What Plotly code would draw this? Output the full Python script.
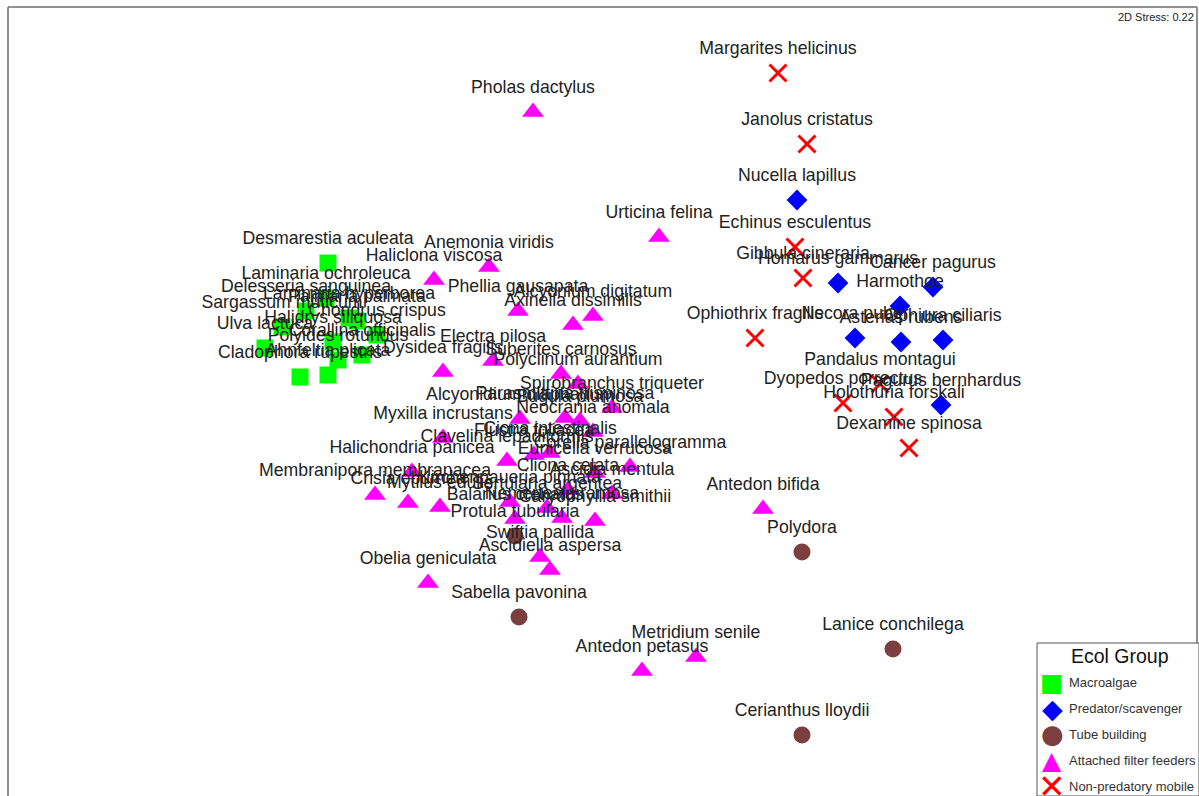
import plotly.graph_objects as go

# ---- MDS coordinates ----
algae_names = ["Desmarestia aculeata", "Laminaria ochroleuca", "Delesseria sanguinea",
               "Laminaria hyperborea", "Palmaria palmata", "Sargassum muticum",
               "Chondrus crispus", "Ulva lactuca", "Halidrys siliquosa",
               "Corallina officinalis", "Polyides rotundus", "Cladophora rupestris",
               "Ahnfeltia plicata"]
algae_x = [-2.72, -2.74, -2.94, -2.51, -2.43, -3.18, -2.23, -3.35, -2.67, -2.38, -2.62, -3.00, -2.72]
algae_y = [1.37, 1.02, 0.89, 0.82, 0.79, 0.73, 0.65, 0.52, 0.58, 0.45, 0.40, 0.23, 0.25]

pred_names = ["Nucella lapillus", "Homarus gammarus", "Cancer pagurus", "Harmothoe",
              "Necora puber", "Asterias rubens", "Ophiura ciliaris", "Pagurus bernhardus"]
pred_x = [1.97, 2.38, 3.33, 3.00, 2.55, 3.01, 3.43, 3.41]
pred_y = [2.00, 1.17, 1.13, 0.94, 0.62, 0.58, 0.60, -0.05]

tube_names = ["Polydora", "Lanice conchilega", "Cerianthus lloydii", "Sabella pavonina",
              "Protula tubularia"]
tube_x = [2.02, 2.93, 2.02, -0.81, -0.85]
tube_y = [-1.52, -2.49, -3.35, -2.17, -1.36]

filt_names = ["Pholas dactylus", "Urticina felina", "Anemonia viridis", "Haliclona viscosa",
              "Phellia gausapata", "Alcyonium digitatum", "Axinella dissimilis", "Electra pilosa",
              "Dysidea fragilis", "Suberites carnosus", "Polyclinum aurantium",
              "Spirobranchus triqueter", "Alcyonidium diaphanum", "Parasmittina trispinosa",
              "Bugula plumosa", "Neocrania anomala", "Myxilla incrustans",
              "Clavelina lepadiformis", "Flustra foliacea", "Ciona intestinalis",
              "Corella parallelogramma", "Eunicella verrucosa", "Cliona celata",
              "Ascidia mentula", "Halichondria panicea", "Membranipora membranacea",
              "Crisia eburnea", "Mytilus edulis", "Kirchenpaueria pinnata",
              "Sertularia argentea", "Balanus crenatus", "Nemertesia ramosa",
              "Caryophyllia smithii", "Swiftia pallida", "Ascidiella aspersa",
              "Obelia geniculata", "Antedon bifida", "Metridium senile", "Antedon petasus"]
filt_x = [-0.67, 0.59, -1.11, -1.66, -0.82, -0.07, -0.27, -1.07, -1.57, -0.39, -0.22,
          0.12, -0.80, -0.35, -0.20, -0.07, -1.57, -0.93, -0.66, -0.50, 0.30, -0.05,
          -0.32, 0.12, -1.88, -2.25, -1.92, -1.60, -0.90, -0.53, -0.85, -0.38, -0.05,
          -0.60, -0.50, -1.72, 1.63, 0.96, 0.42]
filt_y = [2.88, 1.63, 1.33, 1.20, 0.89, 0.84, 0.75, 0.39, 0.28, 0.26, 0.16, -0.08, -0.19,
          -0.18, -0.21, -0.32, -0.38, -0.61, -0.55, -0.53, -0.67, -0.73, -0.90, -0.94,
          -0.72, -0.95, -1.03, -1.07, -1.02, -1.08, -1.19, -1.18, -1.21, -1.57, -1.70,
          -1.83, -1.09, -2.57, -2.71]

mob_names = ["Margarites helicinus", "Janolus cristatus", "Echinus esculentus",
             "Gibbula cineraria", "Ophiothrix fragilis", "Pandalus montagui",
             "Dyopedos porrectus", "Holothuria forskali", "Dexamine spinosa"]
mob_x = [1.78, 2.07, 1.95, 2.03, 1.55, 2.80, 2.43, 2.94, 3.09]
mob_y = [3.27, 2.56, 1.53, 1.22, 0.62, 0.16, -0.03, -0.17, -0.48]

group_names = ["Macroalgae", "Predator/scavenger", "Tube building",
               "Attached filter feeders", "Non-predatory mobile"]
group_colors = ["#00ff00", "#0000ff", "#7b3f3f", "#ff00ff", "#ff0000"]
legend_glyphs = ["■", "◆", "●", "▲", "✕"]

markers = [
    dict(symbol="square", size=17),
    dict(symbol="diamond", size=16),
    dict(symbol="circle", size=17),
    dict(symbol="triangle-up", size=19),
    dict(symbol="x-thin", size=17, line=dict(color="#ff0000", width=3)),
]
series = [
    (algae_names, algae_x, algae_y),
    (pred_names, pred_x, pred_y),
    (tube_names, tube_x, tube_y),
    (filt_names, filt_x, filt_y),
    (mob_names, mob_x, mob_y),
]

FONT = "Liberation Sans, Arial, sans-serif"
fig = go.Figure()

for gname, color, mk, (names, xs, ys) in zip(group_names, group_colors, markers, series):
    fig.add_trace(go.Scatter(x=xs, y=ys, mode="markers", name=gname,
                             marker=dict(color=color, **mk), hoverinfo="text",
                             hovertext=names, showlegend=False))

# labels drawn above every point
LABEL_OFF = 0.23
for names, xs, ys in series:
    fig.add_trace(go.Scatter(x=xs, y=[v + LABEL_OFF for v in ys], mode="text",
                             text=names, textposition="middle center",
                             textfont=dict(family=FONT, size=17.7, color="#222222"),
                             showlegend=False, hoverinfo="skip"))

W, H = 1199, 796

# hand-built legend (kept inside the page)
annotations = [
    dict(text="2D Stress: 0.22", xref="paper", yref="paper", x=1196 / W, y=1 - 17 / H,
         xanchor="right", yanchor="middle", showarrow=False,
         font=dict(family=FONT, size=11, color="#222222")),
    dict(text="Ecol Group", xref="paper", yref="paper", x=1120 / W, y=1 - 656 / H,
         xanchor="center", yanchor="middle", showarrow=False,
         font=dict(family=FONT, size=19.5, color="#111111")),
]
glyph_sizes = [25, 27, 26, 25, 33]
for i, (gname, color, glyph) in enumerate(zip(group_names, group_colors, legend_glyphs)):
    ypix = 682 + i * 26.2
    annotations.append(dict(text=glyph, xref="paper", yref="paper", x=1052 / W,
                            y=1 - ypix / H, xanchor="center", yanchor="middle",
                            showarrow=False,
                            font=dict(family="DejaVu Sans", size=glyph_sizes[i], color=color)))
    annotations.append(dict(text=gname, xref="paper", yref="paper", x=1067 / W,
                            y=1 - ypix / H, xanchor="left", yanchor="middle",
                            showarrow=False,
                            font=dict(family=FONT, size=13, color="#333333")))

fig.update_layout(
    width=W, height=H,
    margin=dict(l=0, r=0, t=0, b=0),
    paper_bgcolor="white", plot_bgcolor="white",
    xaxis=dict(range=[-6.0, 5.99], visible=False, fixedrange=True),
    yaxis=dict(range=[-3.96, 4.0], visible=False, fixedrange=True),
    showlegend=False,
    shapes=[
        # plot frame
        dict(type="line", xref="paper", yref="paper", x0=8 / W, x1=8 / W, y0=1 - 7 / H, y1=0,
             line=dict(color="#6e6e6e", width=1.5)),
        dict(type="line", xref="paper", yref="paper", x0=8 / W, x1=1197 / W, y0=1 - 7 / H, y1=1 - 7 / H,
             line=dict(color="#6e6e6e", width=1.5)),
        dict(type="line", xref="paper", yref="paper", x0=1197 / W, x1=1197 / W, y0=1 - 7 / H, y1=0,
             line=dict(color="#6e6e6e", width=1.5)),
        # legend box
        dict(type="rect", xref="paper", yref="paper", x0=1037 / W, x1=1.0, y0=0, y1=1 - 643 / H,
             line=dict(color="#555555", width=1), fillcolor="white", layer="above"),
    ],
    annotations=annotations,
)

post = ("document.body.style.margin='0';document.body.style.padding='0';"
        "document.body.style.overflow='hidden';")

fig.write_html("out.html", config={"displayModeBar": False}, post_script=post)
